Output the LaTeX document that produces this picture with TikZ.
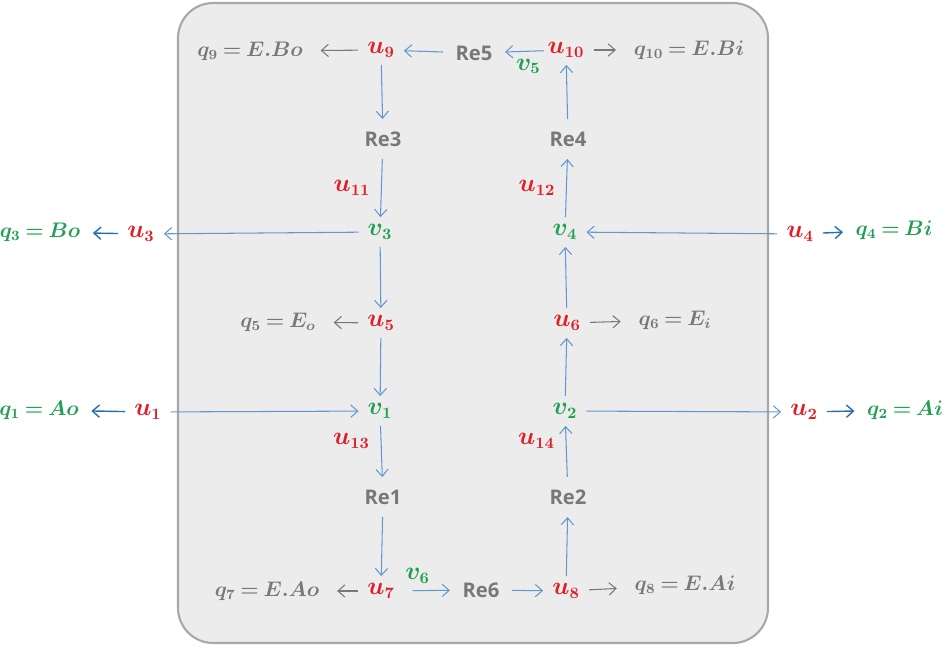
\documentclass[tikz,border=0pt]{standalone}
\usepackage{amsmath}
\usepackage{fontspec}
\usetikzlibrary{arrows.meta}
\newfontfamily\resans{Open Sans}
\definecolor{ured}{RGB}{226,30,38}
\definecolor{vgreen}{RGB}{32,160,82}
\definecolor{qgray}{RGB}{120,120,120}
\definecolor{flowblue}{RGB}{96,153,210}
\definecolor{outblue}{RGB}{40,110,175}
\definecolor{boxfill}{RGB}{237,236,237}
\definecolor{boxline}{RGB}{168,168,168}

\begin{document}
\thickmuskip=3.5mu plus 1mu\relax
\begin{tikzpicture}[
    x=0.02cm, y=-0.02cm,
    mathfont/.style={font=\fontsize{13.5}{16}\selectfont\boldmath},
    qfont/.style={font=\fontsize{12}{15}\selectfont\boldmath},
    uvar/.style={mathfont, text=ured, inner xsep=5pt, inner ysep=4pt},
    vvar/.style={mathfont, text=vgreen, inner xsep=5pt, inner ysep=4pt},
    qloss/.style={qfont, text=qgray, inner xsep=7pt},
    qport/.style={qfont, text=vgreen, inner xsep=7pt},
    react/.style={font=\resans\bfseries\fontsize{11.5}{13}\selectfont, text=qgray, inner sep=7pt},
    flow/.style={-{Straight Barb[length=4pt,width=7pt]}, draw=flowblue, line width=0.6pt},
    outflow/.style={-{Straight Barb[length=4pt,width=7pt]}, draw=outblue, line width=0.8pt},
    loss/.style={-{Straight Barb[length=4pt,width=7pt]}, draw=qgray, line width=0.6pt,
                 shorten >=3pt}
]
\useasboundingbox (0,0) rectangle (947,659);
\draw[draw=boxline, fill=boxfill, line width=1.2pt, rounded corners=20pt] (178,3) rectangle (768,643);

% top row
\node[qloss] (q9)  at (250,51)  {$q_9 = E.Bo$};
\node[uvar]  (u9)  at (381,50)  {$u_9$};
\node[react] (re5) at (474,53)  {Re5};
\node[uvar]  (u10) at (566,50)  {$u_{10}$};
\node[qloss] (q10) at (689,50)  {$q_{10} = E.Bi$};

\node[react] (re3) at (383,139) {Re3};
\node[react] (re4) at (568,139) {Re4};

% row of v3 / v4
\node[qport] (q3)  at (40,232)  {$q_3 = Bo$};
\node[uvar]  (u3)  at (141,234) {$u_3$};
\node[vvar]  (v3)  at (380,232) {$v_3$};
\node[vvar]  (v4)  at (565,232) {$v_4$};
\node[uvar]  (u4)  at (800,234) {$u_4$};
\node[qport] (q4)  at (894,230) {$q_4 = Bi$};

\node[qloss] (q5)  at (278,322) {$q_5 = E_o$};
\node[uvar]  (u5)  at (381,323) {$u_5$};
\node[uvar]  (u6)  at (567,323) {$u_6$};
\node[qloss] (q6)  at (675,320) {$q_6 = E_i$};

% row of v1 / v2
\node[qport] (q1)  at (39,410)  {$q_1 = Ao$};
\node[uvar]  (u1)  at (148,412) {$u_1$};
\node[vvar]  (v1)  at (380,411) {$v_1$};
\node[vvar]  (v2)  at (565,411) {$v_2$};
\node[uvar]  (u2)  at (804,412) {$u_2$};
\node[qport] (q2)  at (905,410) {$q_2 = Ai$};

\node[react] (re1) at (383,497) {Re1};
\node[react] (re2) at (568,497) {Re2};

% bottom row
\node[qloss] (q7)  at (267,591) {$q_7 = E.Ao$};
\node[uvar]  (u7)  at (381,591) {$u_7$};
\node[react] (re6) at (481,590) {Re6};
\node[uvar]  (u8)  at (566,591) {$u_8$};
\node[qloss] (q8)  at (685,585) {$q_8 = E.Ai$};

% connectors
\draw[loss] (u9) -- (q9);
\draw[flow] (re5) -- (u9);
\draw[flow, shorten <=-3pt] (u10) -- node[vvar, below, pos=0.3] (v5) {$v_5$} (re5);
\draw[loss] (u10) -- (q10);
\draw[flow] (u9) -- (re3);
\draw[flow] (re3) -- node[uvar, left=1pt] (u11) {$u_{11}$} (v3);
\draw[flow] (re4) -- (u10);
\draw[flow] (v4) -- node[uvar, left=1pt] (u12) {$u_{12}$} (re4);

\draw[flow] (v3) -- (u3);
\draw[outflow] (u3) -- (q3);
\draw[flow] (u4) -- (v4);
\draw[outflow] (u4) -- (q4);

\draw[flow] (v3) -- (u5);
\draw[loss] (u5) -- (q5);
\draw[flow] (u5) -- (v1);
\draw[flow] (u6) -- (v4);
\draw[loss] (u6) -- (q6);
\draw[flow] (v2) -- (u6);

\draw[flow] (u1) -- (v1);
\draw[outflow] (u1) -- (q1);
\draw[flow] (v2) -- (u2);
\draw[outflow] (u2) -- (q2);

\draw[flow] (v1) -- node[uvar, left=1pt, pos=0.3] (u13) {$u_{13}$} (re1);
\draw[flow] (re2) -- node[uvar, left=1pt, pos=0.7] (u14) {$u_{14}$} (v2);
\draw[flow] (re1) -- (u7);
\draw[flow] (u8) -- (re2);

\draw[loss] (u7) -- (q7);
\draw[flow, shorten <=5pt] (u7) -- node[vvar, above, pos=0.3] (v6) {$v_6$} (re6);
\draw[flow] (re6) -- (u8);
\draw[loss] (u8) -- (q8);
\end{tikzpicture}
\end{document}
